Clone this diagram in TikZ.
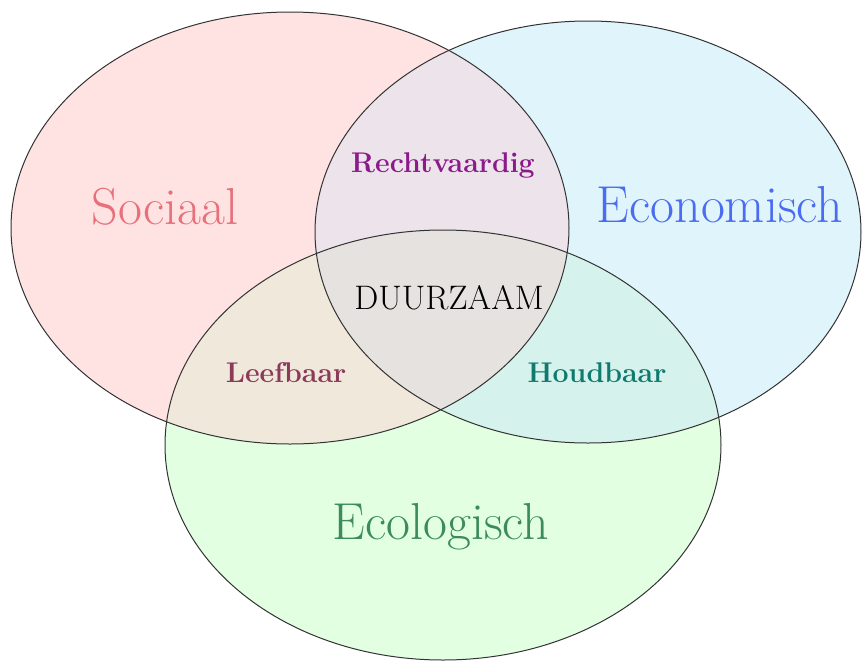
\documentclass[tikz,border=0pt]{standalone}
\usepackage{fontspec}
\usepackage{tikz}

\definecolor{socfill}{HTML}{FFE3E3}
\definecolor{ecofill}{HTML}{E0F4FC}
\definecolor{eclfill}{HTML}{E2FFE2}
\definecolor{rvfill}{HTML}{EDE3EA}
\definecolor{lbfill}{HTML}{F0E8DA}
\definecolor{hbfill}{HTML}{D6F2EC}
\definecolor{dzfill}{HTML}{E6E2DF}
\definecolor{soctext}{HTML}{E8707A}
\definecolor{ecotext}{HTML}{4A6CF0}
\definecolor{ecltext}{HTML}{3C8C5A}
\definecolor{rvtext}{HTML}{8B1A8B}
\definecolor{lbtext}{HTML}{8B3A5A}
\definecolor{hbtext}{HTML}{107A70}

\tikzset{
  rand/.style = {draw = black!80, line width = 1pt},
  groot/.style = {font = \fontsize{52}{60}\selectfont},
  klein/.style = {font = \fontsize{28.5}{34}\selectfont\bfseries},
}

% de drie cirkels
\def\sociaal{(290,228) ellipse [x radius = 279, y radius = 216]}
\def\economisch{(588,232) ellipse [x radius = 273, y radius = 211]}
\def\ecologisch{(443,445) ellipse [x radius = 278, y radius = 215]}

\begin{document}
\begin{tikzpicture}[x = 1pt, y = -1pt]
\useasboundingbox (0,0) rectangle (863,662);
\fill[socfill] \sociaal;
\fill[ecofill] \economisch;
\fill[eclfill] \ecologisch;
\begin{scope}
\clip \sociaal;
\fill[rvfill] \economisch;
\fill[lbfill] \ecologisch;
\end{scope}
\begin{scope}
\clip \economisch;
\fill[hbfill] \ecologisch;
\end{scope}
\begin{scope}
\clip \sociaal;
\clip \economisch;
\fill[dzfill] \ecologisch;
\end{scope}
\draw[rand] \sociaal;
\draw[rand] \economisch;
\draw[rand] \ecologisch;

\node[groot, text = soctext] (soc) at (165,207) {Sociaal};
\node[groot, text = ecotext] (eco) at (720,205) {Economisch};
\node[groot, text = ecltext] (ecl) at (441,527) {Ecologisch};
\node[klein, text = rvtext] (rv) at (443,165) {Rechtvaardig};
\node[klein, text = lbtext] (lb) at (286,373) {Leefbaar};
\node[klein, text = hbtext] (hb) at (597,373) {Houdbaar};
\node[font = \fontsize{34}{40}\selectfont] (dz) at (449,298) {DUURZAAM};
\end{tikzpicture}
\end{document}
